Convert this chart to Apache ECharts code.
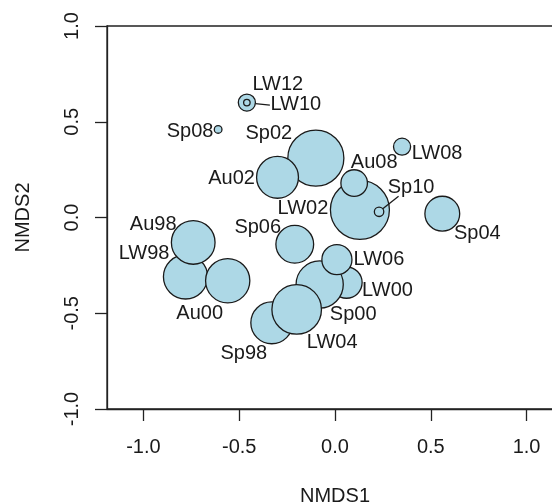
<!DOCTYPE html>
<html>
<head>
<meta charset="utf-8">
<script src="https://cdn.jsdelivr.net/npm/echarts@6/dist/echarts.min.js"></script>
<style>
  html, body { margin: 0; padding: 0; background: #fff; }
  #chart { width: 552px; height: 503px; }
</style>
</head>
<body>
<div id="chart"></div>
<script>
// NMDS ordination of sampling occasions; bubble radius is relative to the largest sample.
// Listed in drawing order (later samples sit on top).
const samples = ['LW98', 'Au98', 'Au00', 'Sp02', 'Au02', 'LW02', 'Au08', 'Sp10', 'LW00', 'Sp00',
                 'LW06', 'Sp98', 'LW04', 'Sp06', 'Sp04', 'LW08', 'Sp08', 'LW12', 'LW10'];
const nmds1 = [-0.78, -0.74, -0.56, -0.10, -0.30, 0.13, 0.10, 0.23, 0.06, -0.08,
               0.01, -0.33, -0.20, -0.21, 0.56, 0.35, -0.61, -0.46, -0.46];
const nmds2 = [-0.31, -0.13, -0.33, 0.31, 0.21, 0.04, 0.18, 0.03, -0.34, -0.35,
               -0.22, -0.55, -0.48, -0.14, 0.02, 0.37, 0.46, 0.60, 0.60];
const relSize = [0.75, 0.74, 0.75, 0.95, 0.71, 1.00, 0.45, 0.16, 0.53, 0.80,
                 0.51, 0.71, 0.84, 0.64, 0.59, 0.29, 0.13, 0.29, 0.11];

const xTicks = [-1.0, -0.5, 0.0, 0.5, 1.0];
const yTicks = [-1.0, -0.5, 0.0, 0.5, 1.0];

// label placement around each bubble (pixel offset of the text centre)
const labelOffset = {
  LW12: [31, -18], LW10: [49, 2], Sp08: [-28, 2], Sp02: [-47, -25], Au02: [-46, 1],
  LW02: [-57, -1], Au08: [20, -21], LW08: [35, 7], Sp10: [32, -24], Sp04: [35, 20],
  Au98: [-40, -18], LW98: [-41.5, -23.5], Au00: [-28, 33], Sp06: [-37, -17],
  LW06: [42, 0], LW00: [41, 7.5], Sp00: [33.5, 30], LW04: [35.5, 33], Sp98: [-28, 31]
};
// where the pointer line of a displaced label ends (pixel offset from the bubble centre)
const leaderEnd = { LW10: [23, 2.6], Sp10: [19.5, -15.5] };

const FONT = '"Liberation Sans", Arial, Helvetica, sans-serif';
const INK = '#1a1a1a';
const FONT_SIZE = 20;
const MAX_DIAMETER = 59;

const points = samples.map((name, i) => ({
  name: name,
  value: [nmds1[i], nmds2[i], relSize[i]],
  label: { offset: labelOffset[name] }
}));

// pointer lines start at the rim of the widest bubble sharing that position
const leaders = Object.keys(leaderEnd).map(name => {
  const i = samples.indexOf(name);
  let rim = 0;
  samples.forEach((s, j) => {
    if (nmds1[j] === nmds1[i] && nmds2[j] === nmds2[i]) rim = Math.max(rim, relSize[j]);
  });
  return { name: name, value: [nmds1[i], nmds2[i], rim] };
});

const axisLineStyle = { color: '#222', width: 1.3 };

const chart = echarts.init(document.getElementById('chart'), null, { renderer: 'canvas' });
chart.setOption({
  animation: false,
  backgroundColor: '#ffffff',
  grid: {
    left: 107, top: 26, right: -11, bottom: 94,
    show: true, borderColor: '#222', borderWidth: 1.3,
    containLabel: false, outerBoundsMode: 'none'
  },
  xAxis: {
    type: 'value', min: -1.19, max: 1.19,
    name: 'NMDS1', nameLocation: 'middle', nameGap: 77,
    nameTextStyle: { fontSize: FONT_SIZE, color: INK, fontFamily: FONT },
    splitLine: { show: false },
    axisLine: { show: true, onZero: false, lineStyle: axisLineStyle },
    axisTick: { show: true, length: 12, customValues: xTicks, lineStyle: axisLineStyle },
    axisLabel: {
      customValues: xTicks, margin: 28, fontSize: FONT_SIZE, color: INK, fontFamily: FONT,
      formatter: v => Number(v).toFixed(1)
    }
  },
  yAxis: {
    type: 'value', min: -1, max: 1, interval: 0.5,
    name: 'NMDS2', nameLocation: 'middle', nameGap: 74, nameRotate: 90,
    nameTextStyle: { fontSize: FONT_SIZE, color: INK, fontFamily: FONT },
    splitLine: { show: false },
    axisLine: { show: true, onZero: false, lineStyle: axisLineStyle },
    axisTick: { show: true, length: 12, customValues: yTicks, lineStyle: axisLineStyle },
    axisLabel: {
      customValues: yTicks, rotate: 90, margin: 25, fontSize: FONT_SIZE, color: INK, fontFamily: FONT,
      showMinLabel: true, showMaxLabel: true,
      formatter: v => Number(v).toFixed(1)
    }
  },
  series: [{
    type: 'scatter',
    data: points,
    symbol: 'circle',
    symbolSize: v => MAX_DIAMETER * v[2],
    itemStyle: { color: '#ADD8E6', borderColor: '#1a1a1a', borderWidth: 1.3, opacity: 1 },
    label: {
      show: true, position: 'inside', formatter: p => p.name,
      fontSize: FONT_SIZE, color: INK, fontFamily: FONT
    },
    emphasis: { disabled: true },
    z: 2
  }, {
    type: 'custom',
    data: leaders,
    silent: true,
    z: 3,
    renderItem: (params, api) => {
      const c = api.coord([api.value(0), api.value(1)]);
      const rim = api.value(2) * MAX_DIAMETER / 2;
      const end = leaderEnd[leaders[params.dataIndex].name];
      const len = Math.hypot(end[0], end[1]);
      return {
        type: 'line',
        shape: {
          x1: c[0] + end[0] / len * rim, y1: c[1] + end[1] / len * rim,
          x2: c[0] + end[0], y2: c[1] + end[1]
        },
        style: { stroke: '#1a1a1a', lineWidth: 1.3 }
      };
    }
  }]
});
</script>
</body>
</html>
